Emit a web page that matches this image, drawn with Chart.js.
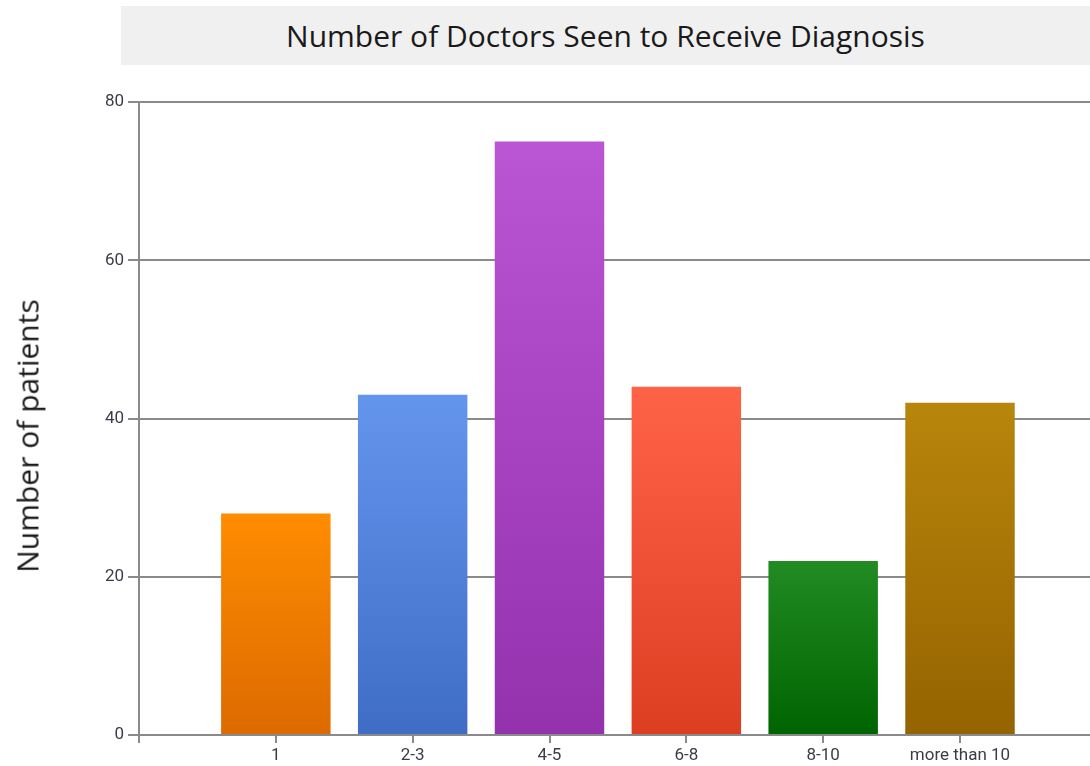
<!DOCTYPE html>
<html>
<head>
<meta charset="utf-8">
<script src="https://cdn.jsdelivr.net/npm/chart.js@4/dist/chart.umd.min.js"></script>
<style>
  html, body { margin: 0; padding: 0; background: #fff; }
  #wrap { position: relative; width: 1090px; height: 766px; overflow: hidden; }
  #title {
    position: absolute; left: 121px; top: 6px; width: 969px; height: 59px;
    background: #f0f0f0; color: #1a1a1a;
    font: 30px "Open Sans", "Noto Sans", sans-serif;
    display: flex; align-items: center; justify-content: center;
  }
  #ytitle {
    position: absolute; left: 27px; top: 436px;
    transform: translate(-50%, -50%) rotate(-90deg);
    white-space: nowrap; color: #1a1a1a;
    font: 30px "Open Sans", "Noto Sans", sans-serif;
  }
  canvas { position: absolute; left: 0; top: 0; }
</style>
</head>
<body>
<div id="wrap">
  <canvas id="chart" width="1090" height="766"></canvas>
  <div id="title">Number of Doctors Seen to Receive Diagnosis</div>
  <div id="ytitle">Number of patients</div>
</div>
<script>
// Doctors seen before diagnosis, number of patients per group
const categories = ['1', '2-3', '4-5', '6-8', '8-10', 'more than 10'];
const patients = [28, 43, 75, 44, 22, 42];
const yTicks = [0, 20, 40, 60, 80];

// Bar fills: top and bottom stops of each vertical gradient
const topColors = ['#ff8c00', '#6495ed', '#ba55d3', '#ff6347', '#228b22', '#b8860b'];
const bottomColors = ['#dc6a00', '#3f6dc6', '#9431ad', '#dc3e22', '#006400', '#956300'];

const axisGrey = '#8a8a8a';
const labelColor = '#3c3c48';
const tickFont = { family: 'Roboto, "Liberation Sans", sans-serif', size: 17 };

function barFill(ctx) {
  const chart = ctx.chart;
  const i = ctx.dataIndex;
  if (!chart.chartArea || !chart.scales.y) return topColors[i];
  const y = chart.scales.y;
  const top = y.getPixelForValue(patients[i]);
  const bottom = y.getPixelForValue(0);
  const g = chart.ctx.createLinearGradient(0, top, 0, bottom);
  g.addColorStop(0, topColors[i]);
  g.addColorStop(1, bottomColors[i]);
  return g;
}

new Chart(document.getElementById('chart'), {
  type: 'bar',
  data: {
    datasets: [{
      data: categories.map((c, i) => ({ x: i + 1, y: patients[i] })),
      backgroundColor: barFill,
      borderWidth: 0,
      categoryPercentage: 1,
      barPercentage: 0.8
    }]
  },
  options: {
    responsive: false,
    animation: false,
    layout: { padding: { top: 102, right: 0, bottom: 0, left: 0 } },
    plugins: { legend: { display: false }, tooltip: { enabled: false }, title: { display: false } },
    scales: {
      x: {
        type: 'linear',
        min: 0,
        max: 6.95,
        offset: false,
        grid: { offset: false, drawOnChartArea: false, drawTicks: true, tickLength: 8, color: axisGrey, lineWidth: 2 },
        border: { color: axisGrey, width: 2 },
        ticks: {
          stepSize: 1,
          autoSkip: false,
          maxRotation: 0,
          padding: 3,
          color: labelColor,
          font: tickFont,
          callback: v => (v >= 1 && v <= categories.length) ? categories[v - 1] : ''
        },
        afterBuildTicks: s => { s.ticks = s.ticks.filter(t => Number.isInteger(t.value)); },
        afterFit: s => { s.height = 31; }
      },
      y: {
        min: 0,
        max: 80,
        grid: { color: axisGrey, lineWidth: 2, tickLength: 11, drawTicks: true },
        border: { color: axisGrey, width: 2 },
        ticks: {
          stepSize: 20,
          padding: 4,
          color: labelColor,
          font: tickFont,
          callback: v => yTicks.includes(v) ? String(v) : ''
        },
        afterFit: s => { s.width = 139; }
      }
    }
  }
});
</script>
</body>
</html>
